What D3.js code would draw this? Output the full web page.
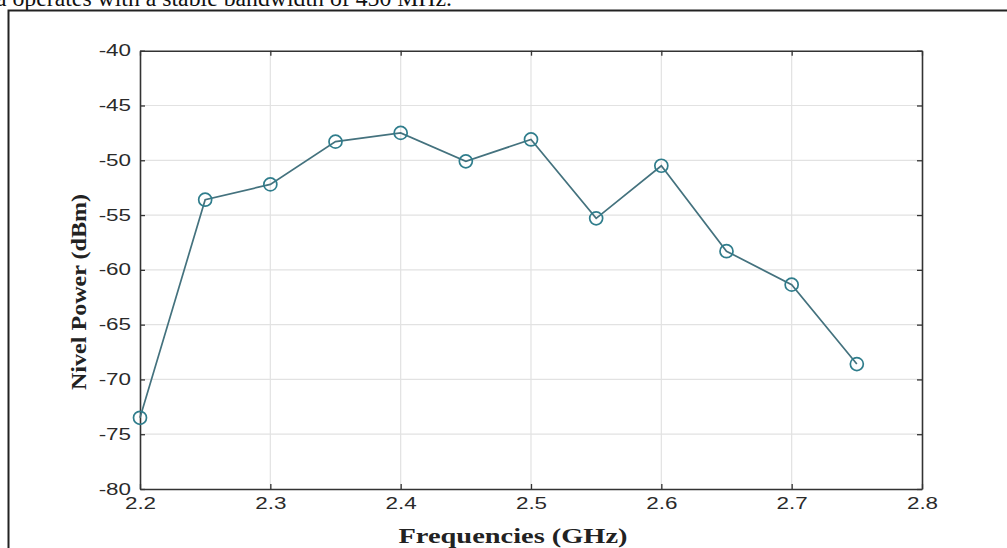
<!DOCTYPE html>
<html>
<head>
<meta charset="utf-8">
<script src="https://cdn.jsdelivr.net/npm/d3@7"></script>
<style>
  body { margin: 0; background: #fff; }
  svg { display: block; }
</style>
</head>
<body>
<div id="chart"></div>
<script>
// Values
const frequencies = [2.2, 2.25, 2.3, 2.35, 2.4, 2.45, 2.5, 2.55, 2.6, 2.65, 2.7, 2.75];
const powerLevels = [-73.5, -53.6, -52.2, -48.3, -47.5, -50.1, -48.1, -55.3, -50.5, -58.3, -61.35, -68.6];
const xTicks = [2.2, 2.3, 2.4, 2.5, 2.6, 2.7, 2.8];
const yTicks = [-80, -75, -70, -65, -60, -55, -50, -45, -40];

const W = 1007, H = 548;
const margin = { top: 50.7, right: 85, bottom: 59, left: 140 };
const width = W - margin.left - margin.right,
  height = H - margin.top - margin.bottom;

const svg = d3.select("#chart").append("svg")
  .attr("width", W)
  .attr("height", H);

// caption text, cut off at the top of the page like in the source image
svg.append("text")
  .attr("x", -4)
  .attr("y", 6)
  .attr("textLength", 456)
  .attr("lengthAdjust", "spacingAndGlyphs")
  .style("font-family", "'Liberation Serif', 'Times New Roman', serif")
  .style("font-size", "24px")
  .style("fill", "#111")
  .text("a operates with a stable bandwidth of 450 MHz.");

// outer frame (top + left edge)
svg.append("path")
  .attr("d", `M8.5,${H} L8.5,10.5 L${W},10.5`)
  .attr("fill", "none")
  .attr("stroke", "#222")
  .attr("stroke-width", 2);

const g = svg.append("g")
  .attr("transform", "translate(" + margin.left + "," + margin.top + ")");

const x = d3.scaleLinear().domain([2.2, 2.8]).range([0, width]);
const y = d3.scaleLinear().domain([-80, -40]).range([height, 0]);

// grid
g.append("g").selectAll("line")
  .data(xTicks.slice(1, -1))
  .enter().append("line")
  .attr("x1", d => x(d)).attr("x2", d => x(d))
  .attr("y1", 0).attr("y2", height)
  .attr("stroke", "#e2e2e2").attr("stroke-width", 1.2);

g.append("g").selectAll("line")
  .data(yTicks.slice(1, -1))
  .enter().append("line")
  .attr("y1", d => y(d)).attr("y2", d => y(d))
  .attr("x1", 0).attr("x2", width)
  .attr("stroke", "#e2e2e2").attr("stroke-width", 1.2);

// axes with inward ticks, boxed
const axisStyle = sel => {
  sel.select(".domain").attr("stroke", "#333").attr("stroke-width", 1.6);
  sel.selectAll(".tick line").attr("stroke", "#333").attr("stroke-width", 1.3);
  sel.selectAll("text")
    .style("font-family", "'Liberation Sans', Arial, sans-serif")
    .style("font-size", "16px")
    .style("fill", "#2a2a2a");
};

// the source image is stretched sideways, so widen the tick labels
const widen = sel => {
  sel.selectAll(".tick text").each(function () {
    const len = this.getComputedTextLength();
    if (len > 0) {
      d3.select(this)
        .attr("textLength", len * 1.4)
        .attr("lengthAdjust", "spacingAndGlyphs");
    }
  });
};

g.append("g")
  .attr("transform", "translate(0," + height + ")")
  .call(d3.axisBottom(x).tickValues(xTicks).tickFormat(d3.format(".1f"))
    .tickSizeInner(-5).tickSizeOuter(0).tickPadding(9))
  .call(axisStyle)
  .call(widen);

g.append("g")
  .call(d3.axisTop(x).tickValues(xTicks).tickFormat("")
    .tickSizeInner(-5).tickSizeOuter(0))
  .call(axisStyle);

g.append("g")
  .call(d3.axisLeft(y).tickValues(yTicks).tickFormat(d => String(d))
    .tickSizeInner(-5).tickSizeOuter(0).tickPadding(9))
  .call(axisStyle)
  .call(widen);

g.append("g")
  .attr("transform", "translate(" + width + ",0)")
  .call(d3.axisRight(y).tickValues(yTicks).tickFormat("")
    .tickSizeInner(-5).tickSizeOuter(0))
  .call(axisStyle);

// the series
const pts = frequencies.map((f, i) => ({ f: f, p: powerLevels[i] }));

g.append("path")
  .datum(pts)
  .attr("fill", "none")
  .attr("stroke", "#44727e")
  .attr("stroke-width", 1.7)
  .attr("d", d3.line().x(d => x(d.f)).y(d => y(d.p)));

g.selectAll(".pt")
  .data(pts)
  .enter().append("circle")
  .attr("class", "pt")
  .attr("cx", d => x(d.f))
  .attr("cy", d => y(d.p))
  .attr("r", 6.5)
  .attr("fill", "none")
  .attr("stroke", "#2f7d8c")
  .attr("stroke-width", 1.7);

// axis titles
svg.append("text")
  .attr("x", 513)
  .attr("y", 543)
  .attr("text-anchor", "middle")
  .attr("textLength", 229)
  .attr("lengthAdjust", "spacingAndGlyphs")
  .style("font-family", "'Liberation Serif', 'Times New Roman', serif")
  .style("font-weight", "bold")
  .style("font-size", "21px")
  .style("fill", "#222")
  .text("Frequencies (GHz)");

svg.append("text")
  .attr("transform", "translate(86,292) rotate(-90)")
  .attr("text-anchor", "middle")
  .attr("textLength", 196)
  .attr("lengthAdjust", "spacingAndGlyphs")
  .style("font-family", "'Liberation Serif', 'Times New Roman', serif")
  .style("font-weight", "bold")
  .style("font-size", "22px")
  .style("fill", "#222")
  .text("Nivel Power (dBm)");
</script>
</body>
</html>
